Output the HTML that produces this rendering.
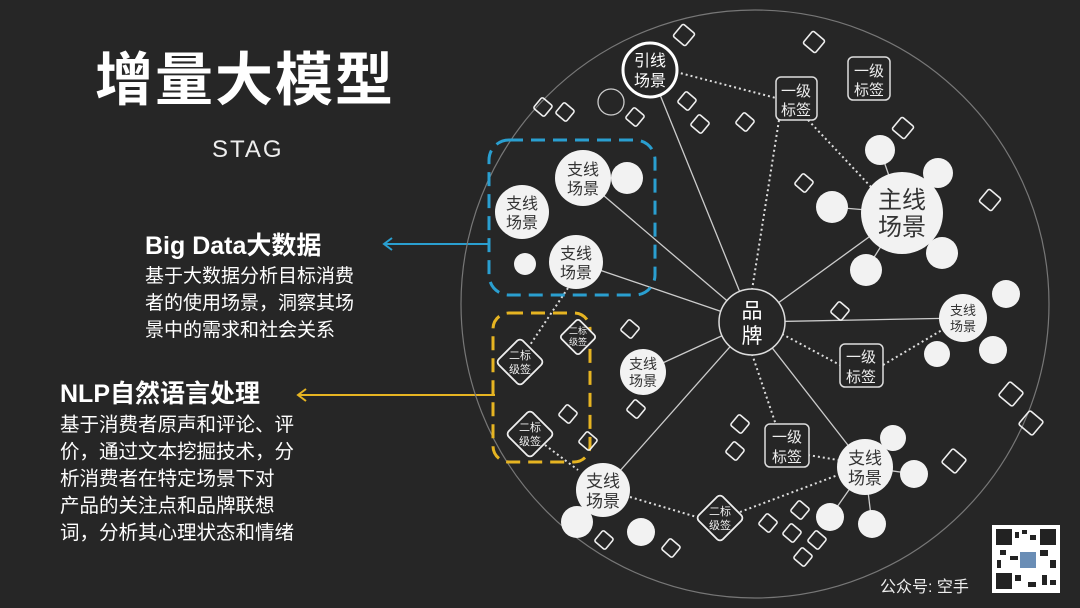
<!DOCTYPE html>
<html><head><meta charset="utf-8"><style>
html,body{margin:0;padding:0;background:#262626;}
svg{display:block}
text{font-family:"Liberation Sans","Noto Sans CJK SC",sans-serif;}
</style></head><body>
<svg width="1080" height="608" viewBox="0 0 1080 608" xmlns="http://www.w3.org/2000/svg">
<rect width="1080" height="608" fill="#262626"/>
<text x="95" y="100" font-size="58" font-weight="bold" fill="#fff" letter-spacing="2">增量大模型</text>
<text x="212" y="157" font-size="24" fill="#eee" letter-spacing="2">STAG</text>
<text x="145" y="254" font-size="25" font-weight="bold" fill="#fff">Big Data大数据</text>
<g font-size="19" fill="#fff">
<text x="145" y="282">基于大数据分析目标消费</text>
<text x="145" y="309">者的使用场景，洞察其场</text>
<text x="145" y="336">景中的需求和社会关系</text>
</g>
<text x="60" y="402" font-size="25" font-weight="bold" fill="#fff">NLP自然语言处理</text>
<g font-size="19.5" fill="#fff">
<text x="60" y="431">基于消费者原声和评论、评</text>
<text x="60" y="458">价，通过文本挖掘技术，分</text>
<text x="60" y="485">析消费者在特定场景下对</text>
<text x="60" y="512">产品的关注点和品牌联想</text>
<text x="60" y="539">词，分析其心理状态和情绪</text>
</g>
<!-- arrows -->
<g stroke="#2a9fd0" stroke-width="2" fill="none"><line x1="488" y1="244" x2="384" y2="244"/><polyline points="392,238 384,244 392,250"/></g>
<g stroke="#e6b422" stroke-width="2" fill="none"><line x1="495" y1="395" x2="298" y2="395"/><polyline points="306,389 298,395 306,401"/></g>
<!-- big circle -->
<circle cx="755" cy="304" r="294" fill="none" stroke="#777" stroke-width="1.2"/>
<!-- solid connectors -->
<g stroke="#ccc" stroke-width="1.3">
<line x1="752" y1="322" x2="650" y2="70"/>
<line x1="752" y1="322" x2="902" y2="213"/>
<line x1="752" y1="322" x2="963" y2="318"/>
<line x1="752" y1="322" x2="865" y2="467"/>
<line x1="752" y1="322" x2="603" y2="490"/>
<line x1="752" y1="322" x2="643" y2="372"/>
<line x1="752" y1="322" x2="583" y2="178"/>
<line x1="752" y1="322" x2="576" y2="262"/>
<line x1="902" y1="213" x2="880" y2="150"/><line x1="902" y1="213" x2="938" y2="173"/><line x1="902" y1="213" x2="832" y2="207"/><line x1="902" y1="213" x2="942" y2="252"/><line x1="902" y1="213" x2="866" y2="270"/>
<line x1="865" y1="467" x2="914" y2="474"/><line x1="865" y1="467" x2="830" y2="517"/><line x1="865" y1="467" x2="872" y2="524"/>
</g>
<!-- dotted -->
<g stroke="#ddd" stroke-width="2" stroke-dasharray="2 3" fill="none">
<line x1="676" y1="72" x2="776" y2="98"/>
<line x1="752" y1="290" x2="779" y2="120"/>
<line x1="808" y1="120" x2="872" y2="188"/>
<line x1="782" y1="334" x2="840" y2="365"/>
<line x1="883" y1="365" x2="942" y2="330"/>
<line x1="752" y1="354" x2="776" y2="425"/>
<line x1="808" y1="455" x2="838" y2="460"/>
<line x1="630" y1="497" x2="700" y2="518"/>
<line x1="740" y1="512" x2="838" y2="475"/>
<line x1="545" y1="445" x2="578" y2="470"/>
<line x1="568" y1="288" x2="530" y2="345"/>
</g>
<!-- dashed boxes -->
<rect x="489" y="140" width="166" height="155" rx="20" fill="none" stroke="#2a9fd0" stroke-width="3" stroke-dasharray="14 8"/>
<rect x="493" y="313" width="97" height="149" rx="16" fill="none" stroke="#e6b422" stroke-width="3" stroke-dasharray="14 8"/>
<!-- small diamonds -->
<g fill="none" stroke="#eee" stroke-width="1.6">
<g transform="translate(684,35) rotate(40)"><rect x="-8" y="-8" width="16" height="16" rx="2"/></g>
<g transform="translate(814,42) rotate(40)"><rect x="-8" y="-8" width="16" height="16" rx="2"/></g>
<g transform="translate(543,107) rotate(40)"><rect x="-7" y="-7" width="14" height="14" rx="2"/></g>
<g transform="translate(565,112) rotate(40)"><rect x="-7" y="-7" width="14" height="14" rx="2"/></g>
<g transform="translate(635,117) rotate(40)"><rect x="-7" y="-7" width="14" height="14" rx="2"/></g>
<g transform="translate(687,101) rotate(40)"><rect x="-7" y="-7" width="14" height="14" rx="2"/></g>
<g transform="translate(700,124) rotate(40)"><rect x="-7" y="-7" width="14" height="14" rx="2"/></g>
<g transform="translate(745,122) rotate(40)"><rect x="-7" y="-7" width="14" height="14" rx="2"/></g>
<g transform="translate(804,183) rotate(40)"><rect x="-7" y="-7" width="14" height="14" rx="2"/></g>
<g transform="translate(903,128) rotate(40)"><rect x="-8" y="-8" width="16" height="16" rx="2"/></g>
<g transform="translate(990,200) rotate(40)"><rect x="-8" y="-8" width="16" height="16" rx="2"/></g>
<g transform="translate(840,311) rotate(40)"><rect x="-7" y="-7" width="14" height="14" rx="2"/></g>
<g transform="translate(630,329) rotate(40)"><rect x="-7" y="-7" width="14" height="14" rx="2"/></g>
<g transform="translate(636,409) rotate(40)"><rect x="-7" y="-7" width="14" height="14" rx="2"/></g>
<g transform="translate(740,424) rotate(40)"><rect x="-7" y="-7" width="14" height="14" rx="2"/></g>
<g transform="translate(735,451) rotate(40)"><rect x="-7" y="-7" width="14" height="14" rx="2"/></g>
<g transform="translate(568,414) rotate(40)"><rect x="-7" y="-7" width="14" height="14" rx="2"/></g>
<g transform="translate(588,441) rotate(40)"><rect x="-7" y="-7" width="14" height="14" rx="2"/></g>
<g transform="translate(1011,394) rotate(40)"><rect x="-9" y="-9" width="18" height="18" rx="2"/></g>
<g transform="translate(1031,423) rotate(40)"><rect x="-9" y="-9" width="18" height="18" rx="2"/></g>
<g transform="translate(954,461) rotate(40)"><rect x="-9" y="-9" width="18" height="18" rx="2"/></g>
<g transform="translate(604,540) rotate(40)"><rect x="-7" y="-7" width="14" height="14" rx="2"/></g>
<g transform="translate(671,548) rotate(40)"><rect x="-7" y="-7" width="14" height="14" rx="2"/></g>
<g transform="translate(768,523) rotate(40)"><rect x="-7" y="-7" width="14" height="14" rx="2"/></g>
<g transform="translate(800,510) rotate(40)"><rect x="-7" y="-7" width="14" height="14" rx="2"/></g>
<g transform="translate(792,533) rotate(40)"><rect x="-7" y="-7" width="14" height="14" rx="2"/></g>
<g transform="translate(817,540) rotate(40)"><rect x="-7" y="-7" width="14" height="14" rx="2"/></g>
<g transform="translate(803,557) rotate(40)"><rect x="-7" y="-7" width="14" height="14" rx="2"/></g>
</g>
<!-- 二标级签 diamonds -->
<g fill="#262626" stroke="#eee" stroke-width="1.8">
<g transform="translate(520,362) rotate(45)"><rect x="-17" y="-17" width="34" height="34" rx="4"/></g>
<g transform="translate(578,337) rotate(45)"><rect x="-13" y="-13" width="26" height="26" rx="3"/></g>
<g transform="translate(530,434) rotate(45)"><rect x="-17" y="-17" width="34" height="34" rx="4"/></g>
<g transform="translate(720,518) rotate(45)"><rect x="-17" y="-17" width="34" height="34" rx="4"/></g>
</g>
<g fill="#eee" text-anchor="middle">
<text x="520" y="359" font-size="11">二标</text><text x="520" y="373" font-size="11">级签</text>
<text x="578" y="334" font-size="9">二标</text><text x="578" y="345" font-size="9">级签</text>
<text x="530" y="431" font-size="11">二标</text><text x="530" y="445" font-size="11">级签</text>
<text x="720" y="515" font-size="11">二标</text><text x="720" y="529" font-size="11">级签</text>
</g>
<!-- 一级标签 boxes -->
<g fill="#262626" stroke="#ddd" stroke-width="1.5">
<rect x="776" y="77" width="41" height="43" rx="5"/>
<rect x="848" y="57" width="42" height="43" rx="5"/>
<rect x="840" y="344" width="43" height="43" rx="5"/>
<rect x="765" y="424" width="44" height="43" rx="5"/>
</g>
<g fill="#eee" font-size="15" text-anchor="middle">
<text x="796" y="96">一级</text><text x="796" y="115">标签</text>
<text x="869" y="76">一级</text><text x="869" y="95">标签</text>
<text x="861" y="362">一级</text><text x="861" y="382">标签</text>
<text x="787" y="442">一级</text><text x="787" y="462">标签</text>
</g>
<!-- 引线 -->
<circle cx="650" cy="70" r="27" fill="#262626" stroke="#fff" stroke-width="3"/>
<text x="650" y="66" font-size="16" fill="#fff" text-anchor="middle">引线</text>
<text x="650" y="86" font-size="16" fill="#fff" text-anchor="middle">场景</text>
<circle cx="611" cy="102" r="13" fill="none" stroke="#ccc" stroke-width="1.3"/>
<!-- brand -->
<circle cx="752" cy="322" r="33" fill="#262626" stroke="#ddd" stroke-width="1.5"/>
<text x="752" y="318" font-size="21" fill="#fff" text-anchor="middle">品</text>
<text x="752" y="343" font-size="21" fill="#fff" text-anchor="middle">牌</text>
<!-- white circles -->
<g fill="#f2f2f2">
<circle cx="902" cy="213" r="41"/>
<circle cx="880" cy="150" r="15"/><circle cx="938" cy="173" r="15"/><circle cx="832" cy="207" r="16"/><circle cx="942" cy="253" r="16"/><circle cx="866" cy="270" r="16"/>
<circle cx="583" cy="178" r="28"/><circle cx="627" cy="178" r="16"/>
<circle cx="522" cy="212" r="27"/>
<circle cx="576" cy="262" r="27"/><circle cx="525" cy="264" r="11"/>
<circle cx="963" cy="318" r="24"/><circle cx="1006" cy="294" r="14"/><circle cx="937" cy="354" r="13"/><circle cx="993" cy="350" r="14"/>
<circle cx="643" cy="372" r="23"/>
<circle cx="603" cy="490" r="27"/><circle cx="577" cy="522" r="16"/><circle cx="641" cy="532" r="14"/>
<circle cx="865" cy="467" r="28"/><circle cx="914" cy="474" r="14"/><circle cx="830" cy="517" r="14"/><circle cx="872" cy="524" r="14"/><circle cx="893" cy="438" r="13"/>
</g>
<g fill="#333" text-anchor="middle">
<text x="902" y="208" font-size="24">主线</text><text x="902" y="235" font-size="24">场景</text>
<text x="583" y="175" font-size="16">支线</text><text x="583" y="194" font-size="16">场景</text>
<text x="522" y="209" font-size="16">支线</text><text x="522" y="228" font-size="16">场景</text>
<text x="576" y="259" font-size="16">支线</text><text x="576" y="278" font-size="16">场景</text>
<text x="963" y="315" font-size="13">支线</text><text x="963" y="331" font-size="13">场景</text>
<text x="643" y="369" font-size="14">支线</text><text x="643" y="386" font-size="14">场景</text>
<text x="603" y="487" font-size="17">支线</text><text x="603" y="507" font-size="17">场景</text>
<text x="865" y="464" font-size="17">支线</text><text x="865" y="484" font-size="17">场景</text>
</g>
<!-- footer -->
<text x="880" y="592" font-size="16" fill="#eee">公众号: 空手</text>
<rect x="992" y="525" width="68" height="68" fill="#fff"/>
<g fill="#222">
<rect x="996" y="529" width="16" height="16"/><rect x="1040" y="529" width="16" height="16"/><rect x="996" y="573" width="16" height="16"/>
<rect x="1015" y="532" width="4" height="6"/><rect x="1022" y="530" width="5" height="4"/><rect x="1030" y="535" width="6" height="5"/>
<rect x="1000" y="550" width="6" height="5"/><rect x="1010" y="556" width="8" height="4"/><rect x="1040" y="550" width="8" height="6"/>
<rect x="1050" y="560" width="6" height="8"/><rect x="1015" y="575" width="6" height="6"/><rect x="1028" y="582" width="8" height="5"/>
<rect x="1042" y="575" width="5" height="10"/><rect x="1050" y="580" width="6" height="5"/><rect x="997" y="560" width="4" height="8"/>
</g>
<rect x="1020" y="552" width="16" height="16" fill="#6a8db5"/>
</svg>
</body></html>
